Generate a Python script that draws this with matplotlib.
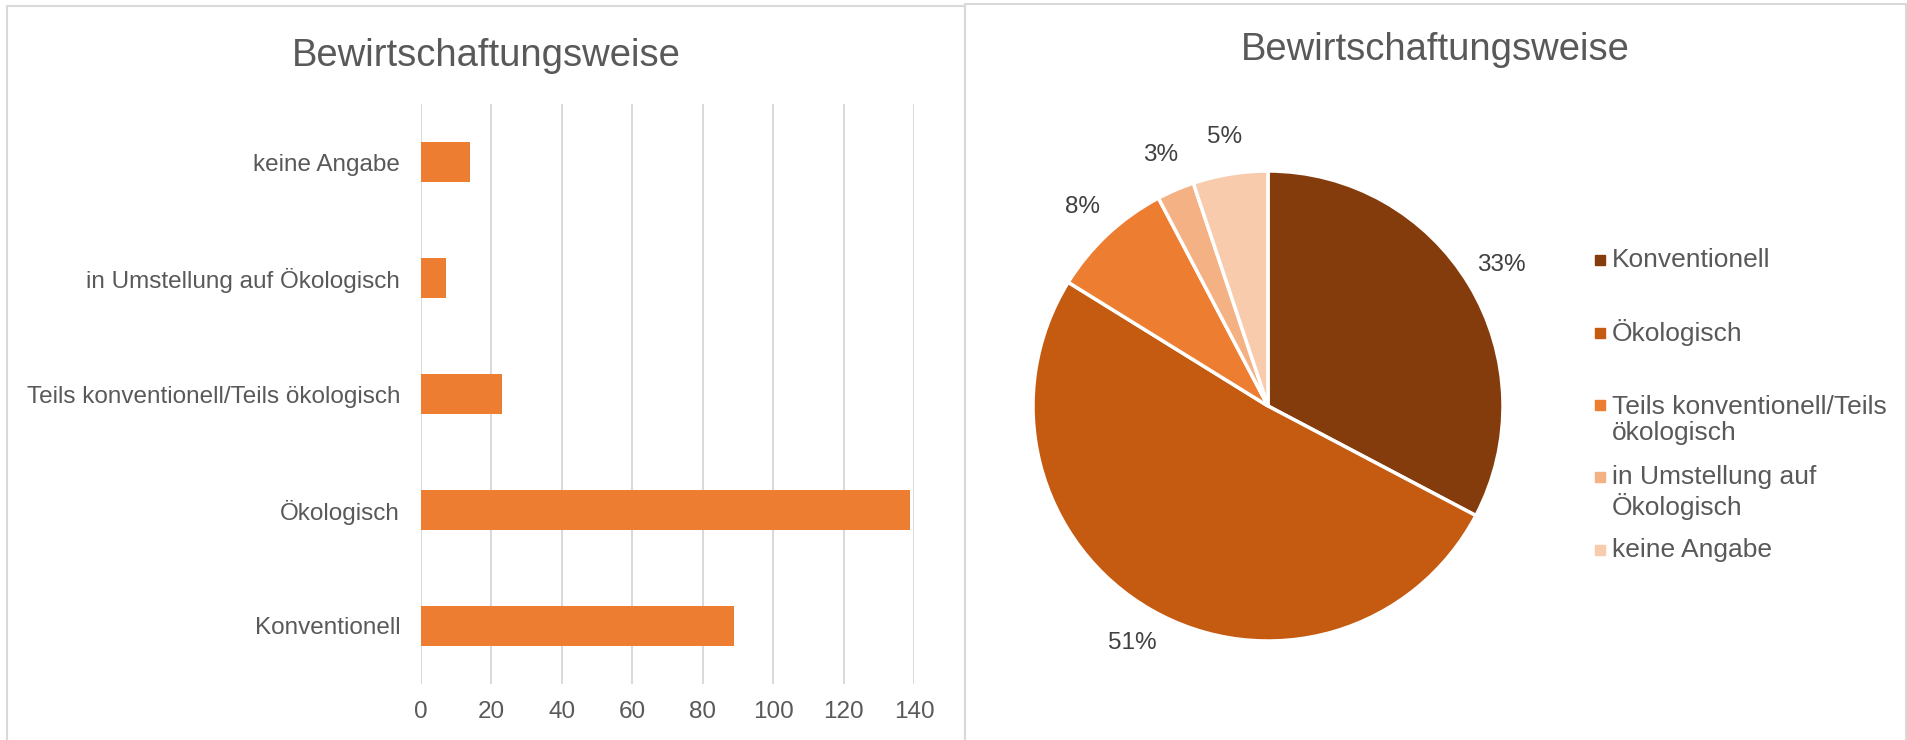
import matplotlib
matplotlib.use("Agg")
import matplotlib.pyplot as plt
from matplotlib.patches import Rectangle

plt.rcParams['font.family'] = ['Liberation Sans', 'DejaVu Sans']

# data
title = 'Bewirtschaftungsweise'
categories = ['Konventionell', 'Ökologisch', 'Teils konventionell/Teils ökologisch',
              'in Umstellung auf Ökologisch', 'keine Angabe']
counts = [89, 139, 23, 7, 14]
legend_labels = ['Konventionell', 'Ökologisch', 'Teils konventionell/Teils\nökologisch',
                 'in Umstellung auf\nÖkologisch', 'keine Angabe']
x_ticks = [0, 20, 40, 60, 80, 100, 120, 140]

bar_color = '#ED7D31'
pie_colors = ['#843C0C', '#C55A11', '#ED7D31', '#F4B183', '#F8CBAD']
text_color = '#595959'
grid_color = '#D9D9D9'

W, H = 1908, 740
fig = plt.figure(figsize=(W / 100, H / 100), dpi=100)


def fx(px):
    return px / W


def fy(py):
    return 1 - py / H


# panel frames
fig.patches.append(Rectangle((fx(7.5), fy(760)), fx(965 - 7.5), (760 - 6) / H,
                             transform=fig.transFigure, fill=False,
                             edgecolor=grid_color, linewidth=1.5))
fig.patches.append(Rectangle((fx(965), fy(760)), fx(1906.5 - 965), (760 - 3.5) / H,
                             transform=fig.transFigure, fill=False,
                             edgecolor=grid_color, linewidth=1.5))

# bar chart
ax = fig.add_axes([fx(421), fy(684), fx(914 - 421), (684 - 104) / H])
ypos = range(len(categories))
ax.barh(ypos, counts, height=0.35, color=bar_color, zorder=3)
ax.set_xlim(0, 140)
ax.set_ylim(-0.5, len(categories) - 0.5)
ax.set_xticks(x_ticks)
ax.set_yticks(list(ypos))
ax.set_yticklabels(categories)
ax.grid(axis='x', color=grid_color, linewidth=1.4, zorder=0)
for s in ax.spines.values():
    s.set_visible(False)
ax.axvline(0, color=grid_color, linewidth=1.4, zorder=1)
ax.tick_params(axis='both', length=0, labelsize=17.5, colors=text_color)
ax.tick_params(axis='x', pad=12)
ax.tick_params(axis='y', pad=15)

fig.text(fx(486), fy(66), title, ha='center', va='baseline', fontsize=27.5, color=text_color)

# pie chart
r = 235
pax = fig.add_axes([fx(1268 - r), fy(406 + r), fx(2 * r), 2 * r / H])
wedges, texts, autotexts = pax.pie(counts, colors=pie_colors, startangle=90, counterclock=False,
                                   autopct='%1.0f%%', pctdistance=1.16,
                                   wedgeprops=dict(edgecolor='white', linewidth=2.5))
for t in autotexts:
    t.set_fontsize(17.5)
    t.set_color('#404040')
pax.set_xlim(-1, 1)
pax.set_ylim(-1, 1)
pax.set_aspect('equal')

fig.text(fx(1435), fy(60), title, ha='center', va='baseline', fontsize=27.5, color=text_color)

# legend drawn by hand so entries keep an even spacing
for i, (lab, col) in enumerate(zip(legend_labels, pie_colors)):
    y0 = 260 + 72.5 * i
    n = lab.count('\n')
    fig.patches.append(Rectangle((fx(1595), fy(y0 + 5)), fx(10), 10 / H,
                                 transform=fig.transFigure, color=col))
    fig.text(fx(1612), fy(y0 + 15 * n), lab, ha='left', va='center', fontsize=19,
             color=text_color, linespacing=1.14)

fig.savefig('out.png', dpi=100)
